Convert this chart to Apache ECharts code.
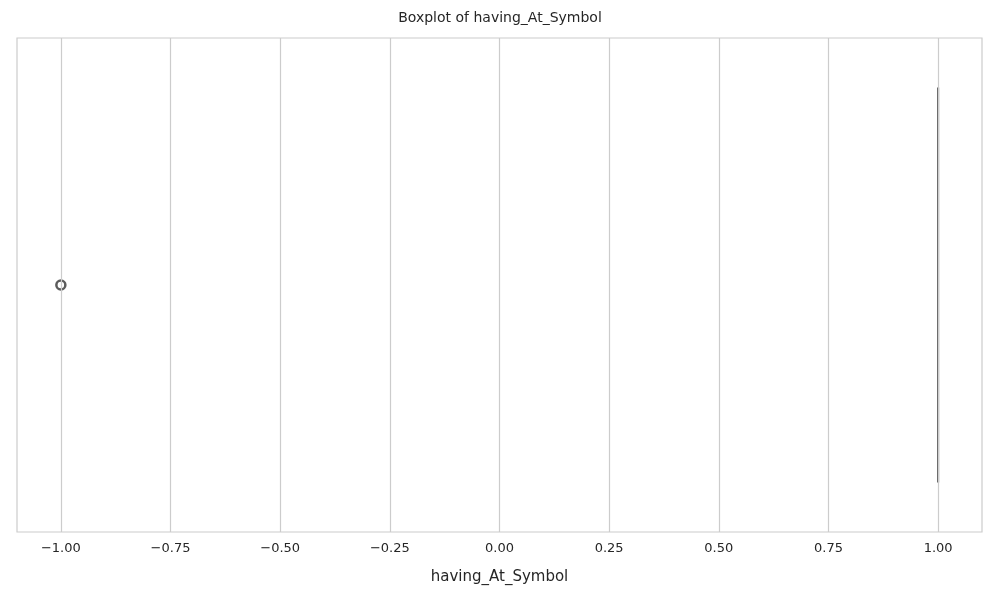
<!DOCTYPE html>
<html>
<head>
<meta charset="UTF-8">
<script src="https://cdn.jsdelivr.net/npm/echarts@6/dist/echarts.min.js"></script>
<style>html,body{margin:0;background:#fff}#c{width:1000px;height:600px}</style>
</head>
<body>
<div id="c"></div>
<script>
// five-number summary of having_At_Symbol: min, q1, median, q3, max
var boxStats = [1, 1, 1, 1, 1];
var outliers = [-1];
var tickValues = [-1, -0.75, -0.5, -0.25, 0, 0.25, 0.5, 0.75, 1];
var tickLabels = ['\u22121.00', '\u22120.75', '\u22120.50', '\u22120.25', '0.00', '0.25', '0.50', '0.75', '1.00'];

var chart = echarts.init(document.getElementById('c'));
chart.setOption({
    animation: false,
    title: {
        text: 'Boxplot of having_At_Symbol', left: 'center', top: 6,
        textStyle: {fontFamily: 'DejaVu Sans', fontSize: 14, fontWeight: 'normal', color: '#262626'}
    },
    grid: {left: 17, right: 18, top: 38, bottom: 68, show: true, borderColor: '#cccccc', borderWidth: 1.2},
    xAxis: {
        type: 'value', min: -1.1, max: 1.1,
        name: 'having_At_Symbol', nameLocation: 'middle', nameGap: 38,
        nameTextStyle: {fontFamily: 'DejaVu Sans', fontSize: 15, color: '#262626'},
        axisLine: {show: false}, axisTick: {show: false},
        splitLine: {show: false},
        axisLabel: {show: false}
    },
    yAxis: {
        type: 'category', data: ['having_At_Symbol'],
        axisLine: {show: false}, axisTick: {show: false}, axisLabel: {show: false}
    },
    series: [{
        // vertical grid lines + tick labels at fixed values
        type: 'line', data: [], silent: true,
        markLine: {
            symbol: 'none', silent: true, animation: false,
            lineStyle: {color: '#cccccc', type: 'solid', width: 1.2},
            label: {
                show: true, position: 'start', distance: 10,
                formatter: function (p) { return tickLabels[p.dataIndex]; },
                fontFamily: 'DejaVu Sans', fontSize: 13, color: '#262626'
            },
            data: tickValues.map(function (v) { return {xAxis: v}; })
        }
    }, {
        type: 'boxplot', data: [boxStats], boxWidth: ['80%', '80%'],
        itemStyle: {color: '#4c72b0', borderColor: '#4a4a4a', borderWidth: 2}
    }, {
        type: 'scatter', symbol: 'circle', symbolSize: 9,
        data: outliers.map(function (v) { return [v, 'having_At_Symbol']; }),
        itemStyle: {color: '#fff', borderColor: '#333333', borderWidth: 2.5}
    }]
});
</script>
</body>
</html>
